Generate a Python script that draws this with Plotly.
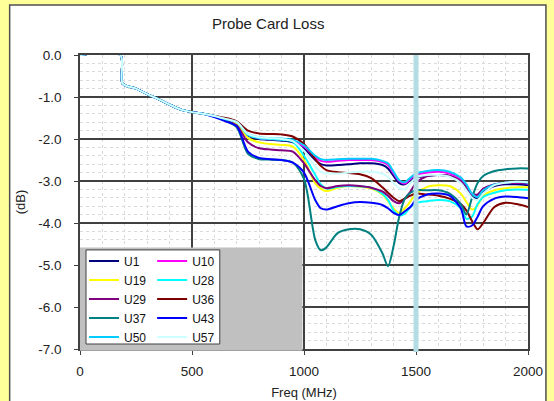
import plotly.graph_objects as go

freq = [0, 180, 190, 250, 300, 350, 400, 450, 500, 550,
        600, 650, 700, 750, 800, 850, 900, 950, 1000, 1050,
        1075, 1100, 1150, 1200, 1250, 1300, 1350, 1375, 1400, 1425,
        1450, 1475, 1500, 1550, 1600, 1650, 1700, 1725, 1750, 1775,
        1800, 1850, 1900, 1950, 2000]

head = [0, 0, -0.68, -0.80, -0.93, -1.05, -1.18, -1.30, -1.36, -1.40, -1.45]

u1 = head + [-1.54, -1.62, -1.92, -2.00, -2.02, -2.04, -2.08, -2.22, -2.50,
             -2.60, -2.63, -2.62, -2.60, -2.58, -2.58, -2.62, -2.70, -2.88, -3.05,
             -3.08, -2.98, -2.92, -2.88, -2.86, -2.88, -3.00, -3.18, -3.38, -3.40,
             -3.25, -3.12, -3.08, -3.08, -3.10]
u10 = head + [-1.53, -1.62, -1.90, -1.98, -2.00, -2.01, -2.04, -2.18, -2.44,
              -2.52, -2.54, -2.52, -2.50, -2.50, -2.50, -2.55, -2.62, -2.82, -3.00,
              -3.06, -2.95, -2.85, -2.80, -2.78, -2.82, -2.95, -3.12, -3.32, -3.35,
              -3.20, -3.08, -3.04, -3.04, -3.06]
u19 = head + [-1.55, -1.65, -1.98, -2.08, -2.12, -2.14, -2.18, -2.50, -3.05,
              -3.18, -3.24, -3.16, -3.12, -3.14, -3.18, -3.32, -3.48, -3.66, -3.76,
              -3.65, -3.48, -3.30, -3.14, -3.10, -3.12, -3.30, -3.50, -3.68, -3.58,
              -3.35, -3.22, -3.17, -3.15, -3.15]
u28 = head + [-1.53, -1.60, -1.90, -1.98, -2.00, -2.02, -2.06, -2.40, -2.85,
              -3.08, -3.18, -3.14, -3.12, -3.13, -3.16, -3.30, -3.45, -3.70, -3.82,
              -3.78, -3.62, -3.52, -3.48, -3.45, -3.48, -3.65, -3.90, -3.85, -3.55,
              -3.38, -3.28, -3.22, -3.20, -3.21]
u29 = head + [-1.56, -1.68, -2.08, -2.22, -2.25, -2.27, -2.30, -2.58, -2.98,
              -3.12, -3.17, -3.12, -3.10, -3.12, -3.16, -3.25, -3.35, -3.48, -3.53,
              -3.42, -3.25, -3.05, -2.88, -2.86, -2.88, -3.00, -3.15, -3.30, -3.32,
              -3.18, -3.08, -3.05, -3.04, -3.05]
u36 = head + [-1.50, -1.58, -1.80, -1.87, -1.88, -1.89, -1.94, -2.12, -2.48,
              -2.64, -2.74, -2.79, -2.81, -2.84, -2.93, -3.15, -3.28, -3.40, -3.48,
              -3.42, -3.35, -3.30, -3.32, -3.35, -3.42, -3.55, -3.70, -3.95, -4.15,
              -4.00, -3.62, -3.52, -3.55, -3.62]
u37 = head[:-1] + [-1.47, -1.57, -1.72, -2.35, -2.48, -2.49, -2.50, -2.56, -2.95, -4.40,
                   -4.65, -4.58, -4.24, -4.15, -4.15, -4.28, -4.72, -5.03, -4.55, -3.85,
                   -3.42, -3.28, -3.22, -3.22, -3.22, -3.30, -3.55, -3.80, -3.40, -3.05,
                   -2.88, -2.76, -2.72, -2.70, -2.70]
u43 = head[:-1] + [-1.48, -1.58, -1.70, -2.30, -2.45, -2.48, -2.50, -2.56, -2.80, -3.45,
                   -3.65, -3.68, -3.60, -3.53, -3.50, -3.52, -3.57, -3.65, -3.76, -3.81,
                   -3.72, -3.62, -3.45, -3.32, -3.30, -3.35, -3.65, -4.08, -4.06, -3.85,
                   -3.60, -3.42, -3.37, -3.38, -3.41]
u50 = head + [-1.53, -1.60, -1.88, -1.96, -1.98, -1.99, -2.02, -2.15, -2.40,
              -2.48, -2.50, -2.48, -2.47, -2.47, -2.47, -2.52, -2.58, -2.78, -2.98,
              -3.03, -2.92, -2.82, -2.76, -2.74, -2.78, -2.92, -3.08, -3.30, -3.38,
              -3.22, -3.08, -3.04, -3.02, -3.04]
u57 = head + [-1.52, -1.60, -1.88, -1.96, -1.98, -2.00, -2.05, -2.28, -2.66,
              -2.78, -2.82, -2.82, -2.80, -2.78, -2.78, -2.83, -2.90, -3.05, -3.17,
              -3.20, -3.05, -2.92, -2.86, -2.86, -2.90, -3.05, -3.22, -3.40, -3.45,
              -3.30, -3.10, -3.04, -3.02, -3.03]

names = ["U1", "U10", "U19", "U28", "U29", "U36", "U37", "U43", "U50", "U57"]
values = [u1, u10, u19, u28, u29, u36, u37, u43, u50, u57]
colors = ["#000080", "#FF00FF", "#FFFF00", "#00FFFF", "#800080",
          "#800000", "#008080", "#0000FF", "#00CCFF", "#CCFFFF"]
legend_of = ["legend", "legend2"] * 5

y_tick_vals = [0, -1, -2, -3, -4, -5, -6, -7]
y_tick_text = ["0.0", "-1.0", "-2.0", "-3.0", "-4.0", "-5.0", "-6.0", "-7.0"]

marker_freq = [1500]

FONT = "Liberation Sans, Arial, Helvetica, sans-serif"

fig = go.Figure()
for n, v, c, lg in zip(names, values, colors, legend_of):
    fig.add_trace(go.Scatter(x=freq, y=v, name=n, mode="lines",
                             line=dict(color=c, width=2, shape="spline", smoothing=0.8),
                             legend=lg))

shapes = [
    # white inner panel
    dict(type="rect", xref="paper", yref="paper", x0=-0.157, x1=1.040, y0=-0.25, y1=1.170,
         fillcolor="white", line=dict(color="#505050", width=1.5), layer="below"),
    # vertical marker
    dict(type="line", xref="x", yref="paper", x0=marker_freq[0], x1=marker_freq[0], y0=-0.01, y1=1.0,
         line=dict(color="#B2DDE2", width=5), layer="above"),
    # legend backdrop (plain grey area)
    dict(type="rect", xref="x", yref="paper", x0=-5, x1=993, y0=-0.006, y1=0.345,
         fillcolor="#C0C0C0", line=dict(width=0), layer="above"),
    # legend box
    dict(type="rect", xref="paper", yref="paper", x0=0.0134, x1=0.312, y0=0.017, y1=0.337,
         fillcolor="white", line=dict(color="#404040", width=1), layer="above"),
]

axis_common = dict(showline=True, mirror=True, linecolor="#404040", linewidth=1.5,
                   showgrid=True, gridcolor="#404040", gridwidth=1.5,
                   ticks="outside", ticklen=4, tickcolor="#404040",
                   tickfont=dict(family=FONT, size=13.5, color="#222"),
                   zeroline=False, automargin=False)

fig.update_layout(
    width=554, height=401,
    margin=dict(l=80, r=26, t=55, b=52),
    paper_bgcolor="#FFFF99",
    plot_bgcolor="#C0C0C0",
    font=dict(family=FONT, size=13, color="#222"),
    title=dict(text="Probe Card Loss", x=0.42, xref="paper", xanchor="center",
               y=0.94, yref="container", yanchor="middle",
               font=dict(family=FONT, size=15, color="#222")),
    xaxis=dict(range=[0, 2000], dtick=500, tick0=0,
               title=dict(text="Freq (MHz)", standoff=10, font=dict(family=FONT, size=13)),
               minor=dict(dtick=100, showgrid=True, gridcolor="#DADADA", griddash="dot", gridwidth=1),
               ticklabelstandoff=5,
               **axis_common),
    yaxis=dict(range=[-7, 0], tickmode="array", tickvals=y_tick_vals, ticktext=y_tick_text,
               title=dict(text="(dB)", standoff=10, font=dict(family=FONT, size=13)),
               minor=dict(tickmode="linear", tick0=0, dtick=0.2, showgrid=True,
                          gridcolor="#DADADA", griddash="dot", gridwidth=1),
               ticklabelstandoff=10,
               **axis_common),
    shapes=shapes,
    legend=dict(x=0.009, y=0.349, xanchor="left", yanchor="top", bgcolor="rgba(0,0,0,0)",
                font=dict(family=FONT, size=12, color="#111"), tracegroupgap=0),
    legend2=dict(x=0.161, y=0.349, xanchor="left", yanchor="top", bgcolor="rgba(0,0,0,0)",
                 font=dict(family=FONT, size=12, color="#111"), tracegroupgap=0),
    showlegend=True,
)

fig.write_html("out.html", config={"displayModeBar": False},
               post_script="document.body.style.margin='0px';")
